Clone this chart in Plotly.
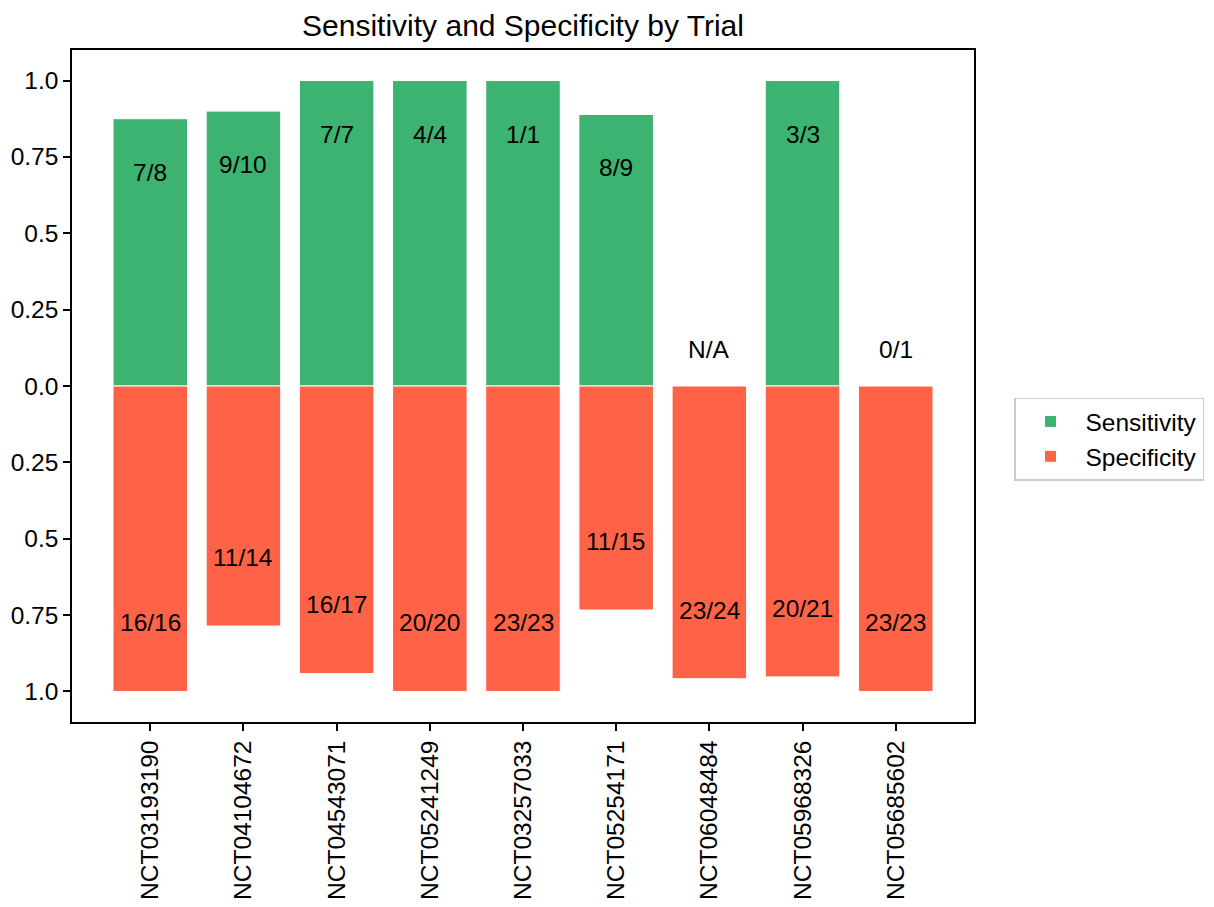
import plotly.graph_objects as go

trials = ["NCT03193190", "NCT04104672", "NCT04543071", "NCT05241249", "NCT03257033",
          "NCT05254171", "NCT06048484", "NCT05968326", "NCT05685602"]
sens_num = [7, 9, 7, 4, 1, 8, None, 3, 0]
sens_den = [8, 10, 7, 4, 1, 9, None, 3, 1]
spec_num = [16, 11, 16, 20, 23, 11, 23, 20, 23]
spec_den = [16, 14, 17, 20, 23, 15, 24, 21, 23]

ytick_vals = [-1.0, -0.75, -0.5, -0.25, 0.0, 0.25, 0.5, 0.75, 1.0]
ytick_text = ["1.0", "0.75", "0.5", "0.25", "0.0", "0.25", "0.5", "0.75", "1.0"]

GREEN = "#3CB371"
RED = "#FF6347"
FONT = "Arial, Liberation Sans, sans-serif"
FS = 24.5

sens = [(n / d) if n is not None else 0.0 for n, d in zip(sens_num, sens_den)]
spec = [n / d for n, d in zip(spec_num, spec_den)]
sens_lab = [f"{n}/{d}" if n is not None else "N/A" for n, d in zip(sens_num, sens_den)]
spec_lab = [f"{n}/{d}" for n, d in zip(spec_num, spec_den)]

x = list(range(len(trials)))

fig = go.Figure()
fig.add_trace(go.Bar(x=x, y=sens, width=0.8, name="Sensitivity",
                     marker=dict(color=GREEN, line=dict(color="white", width=1))))
fig.add_trace(go.Bar(x=x, y=[-s for s in spec], width=0.8, name="Specificity",
                     marker=dict(color=RED, line=dict(color="white", width=1))))

annots = []
for i, (v, t) in enumerate(zip(sens, sens_lab)):
    yy = v - 0.175 if v > 0 else 0.12
    annots.append(dict(x=i, y=yy, text=t, showarrow=False, xref="x", yref="y",
                       font=dict(size=FS, color="black", family=FONT)))
for i, (v, t) in enumerate(zip(spec, spec_lab)):
    yy = -(v - 0.225)
    annots.append(dict(x=i, y=yy, text=t, showarrow=False, xref="x", yref="y",
                       font=dict(size=FS, color="black", family=FONT)))

# page has an 8px body margin; plot area 902 x 672
L, T, PW, PH = 64, 42, 902, 672
W, H = 1206, 899
fig.update_layout(
    width=W, height=H,
    margin=dict(l=L, r=W - L - PW, t=T, b=H - T - PH, autoexpand=False),
    paper_bgcolor="white", plot_bgcolor="white",
    barmode="overlay",
    font=dict(family=FONT, size=FS, color="black"),
    title=dict(text="Sensitivity and Specificity by Trial", x=(L + PW / 2) / W,
               xanchor="center", y=1 - 17 / H, yanchor="middle",
               font=dict(size=30, family=FONT, color="black")),
    annotations=annots,
    showlegend=True,
    legend=dict(x=(1014 - 8 - L) / PW, xanchor="left", y=(722 - 439) / PH, yanchor="middle",
                bordercolor="#cccccc", borderwidth=1.5, bgcolor="white",
                font=dict(size=FS, family=FONT, color="black"),
                itemwidth=60, tracegroupgap=0),
)
fig.update_xaxes(range=[-0.84, 8.84], tickmode="array", tickvals=x, ticktext=trials,
                 tickangle=-90, ticks="outside", ticklen=7, tickwidth=1.5, tickcolor="black",
                 showline=True, linecolor="black", linewidth=1.5, mirror=True,
                 showgrid=False, zeroline=False, tickfont=dict(size=FS), automargin=False)
fig.update_yaxes(range=[-1.1, 1.1], tickmode="array", tickvals=ytick_vals, ticktext=ytick_text,
                 ticks="outside", ticklen=7, tickwidth=1.5, tickcolor="black",
                 showline=True, linecolor="black", linewidth=1.5, mirror=True,
                 showgrid=False, zeroline=False, tickfont=dict(size=FS), automargin=False)

fig.write_html("out.html")
